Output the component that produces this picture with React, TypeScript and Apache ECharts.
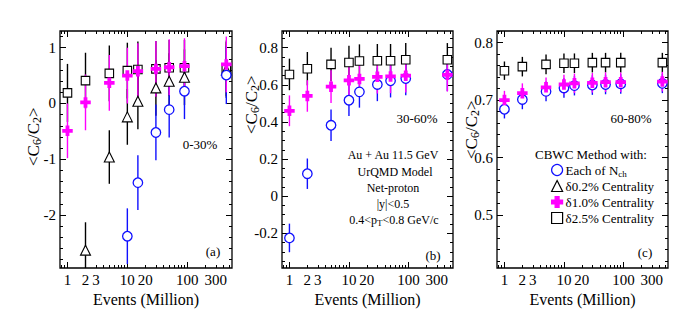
import { useEffect, useRef } from 'react';
import * as echarts from 'echarts';

const FONT = "'Liberation Serif', 'Times New Roman', Times, serif";

// Events (Million) at which each point was computed
const EVENTS = [1, 2, 5, 10, 15, 30, 50, 90, 450];

// X axis tick labels / ticks
const X_LABELS = [1, 2, 3, 10, 20, 100, 300];
const X_MAJOR_TICKS = [1, 10, 100];
const X_MINOR_TICKS = [0.8, 0.9, 2, 3, 4, 5, 6, 7, 8, 9, 20, 30, 40, 50, 60, 70, 80, 90, 200, 300, 400, 500];

// Y axis tick labels per panel
const A_Y_LABELS = [-2, -1, 0, 1];
const B_Y_LABELS = [-0.2, 0, 0.2, 0.4, 0.6, 0.8];
const C_Y_LABELS = [0.5, 0.6, 0.7, 0.8];

// Series names
const S_NCH = 'Each of Nch';
const S_D02 = 'δ0.2% Centrality';
const S_D10 = 'δ1.0% Centrality';
const S_D25 = 'δ2.5% Centrality';

// (a) 0-30%
const A_NCH = [null, null, null, -2.38, -1.42, -0.52, -0.11, 0.22, 0.51];
const A_NCH_ERR = [null, null, null, 0.5, 0.49, 0.5, 0.5, 0.5, 0.52];
const A_D02 = [null, -2.63, -0.96, -0.24, 0.04, 0.28, 0.4, 0.47, 0.6];
const A_D02_ERR = [null, 0.5, 0.48, 0.5, 0.5, 0.5, 0.5, 0.5, 0.5];
const A_D10 = [-0.49, 0.02, 0.37, 0.5, 0.58, 0.62, 0.65, 0.67, 0.7];
const A_D10_ERR = [0.49, 0.5, 0.5, 0.5, 0.5, 0.5, 0.5, 0.5, 0.5];
const A_D25 = [0.19, 0.41, 0.54, 0.59, 0.61, 0.62, 0.64, 0.64, 0.63];
const A_D25_ERR = [0.52, 0.5, 0.5, 0.5, 0.5, 0.5, 0.5, 0.5, 0.5];

// (b) 30-60%
const B_NCH = [-0.225, 0.121, 0.382, 0.517, 0.562, 0.602, 0.622, 0.634, 0.656];
const B_NCH_ERR = [0.077, 0.082, 0.085, 0.085, 0.085, 0.09, 0.09, 0.09, 0.09];
const B_D10 = [0.46, 0.54, 0.59, 0.624, 0.632, 0.643, 0.645, 0.649, 0.654];
const B_D10_ERR = [0.083, 0.085, 0.088, 0.088, 0.088, 0.09, 0.09, 0.09, 0.09];
const B_D25 = [0.656, 0.687, 0.71, 0.72, 0.728, 0.73, 0.73, 0.735, 0.735];
const B_D25_ERR = [0.085, 0.09, 0.09, 0.09, 0.09, 0.09, 0.09, 0.09, 0.09];

// (c) 60-80%
const C_NCH = [0.684, 0.701, 0.715, 0.721, 0.725, 0.726, 0.727, 0.728, 0.729];
const C_NCH_ERR = [0.016, 0.017, 0.017, 0.017, 0.017, 0.017, 0.017, 0.017, 0.017];
const C_D10 = [0.7, 0.712, 0.722, 0.727, 0.729, 0.73, 0.731, 0.731, 0.732];
const C_D10_ERR = [0.016, 0.017, 0.017, 0.017, 0.017, 0.017, 0.017, 0.017, 0.017];
const C_D25 = [0.751, 0.758, 0.762, 0.764, 0.764, 0.765, 0.765, 0.765, 0.765];
const C_D25_ERR = [0.016, 0.017, 0.017, 0.017, 0.017, 0.017, 0.017, 0.017, 0.017];

const BLUE = '#1010ff';
const MAGENTA = '#ff00ff';
const BLACK = '#000000';

const CROSS = 'path://M3.2,0 H6.8 V3.2 H10 V6.8 H6.8 V10 H3.2 V6.8 H0 V3.2 H3.2 Z';

const STYLE: Record<string, any> = {
  [S_NCH]: { symbol: 'circle', size: 9.5, color: BLUE, fill: '#ffffff', bw: 1.3 },
  [S_D02]: { symbol: 'triangle', size: 10, color: BLACK, fill: '#ffffff', bw: 1.1 },
  [S_D10]: { symbol: CROSS, size: 10.5, color: MAGENTA, fill: MAGENTA, bw: 0 },
  [S_D25]: { symbol: 'rect', size: 8.5, color: BLACK, fill: '#ffffff', bw: 1.1 },
};

type SeriesDef = { name: string; values: (number | null)[]; errors: (number | null)[] };
type Panel = {
  left: number; width: number; yMin: number; yMax: number; yLabels: number[]; yMinorStep: number;
  series: SeriesDef[];
};

const PANELS: Panel[] = [
  {
    left: 60, width: 172, yMin: -2.95, yMax: 1.3, yLabels: A_Y_LABELS, yMinorStep: 0.2,
    series: [
      { name: S_D25, values: A_D25, errors: A_D25_ERR },
      { name: S_D02, values: A_D02, errors: A_D02_ERR },
      { name: S_NCH, values: A_NCH, errors: A_NCH_ERR },
      { name: S_D10, values: A_D10, errors: A_D10_ERR },
    ],
  },
  {
    left: 282, width: 171, yMin: -0.387, yMax: 0.89, yLabels: B_Y_LABELS, yMinorStep: 0.05,
    series: [
      { name: S_D25, values: B_D25, errors: B_D25_ERR },
      { name: S_NCH, values: B_NCH, errors: B_NCH_ERR },
      { name: S_D10, values: B_D10, errors: B_D10_ERR },
    ],
  },
  {
    left: 497, width: 171, yMin: 0.408, yMax: 0.82, yLabels: C_Y_LABELS, yMinorStep: 0.02,
    series: [
      { name: S_D25, values: C_D25, errors: C_D25_ERR },
      { name: S_NCH, values: C_NCH, errors: C_NCH_ERR },
      { name: S_D10, values: C_D10, errors: C_D10_ERR },
    ],
  },
];

const X_MIN = 0.75;
const X_MAX = 560;
const GRID_TOP = 31;
const GRID_HEIGHT = 237;

function minorTicks(min: number, max: number, step: number): number[] {
  const out: number[] = [];
  const start = Math.ceil(min / step - 1e-9);
  for (let k = start; k * step <= max + 1e-9; k++) {
    out.push(Math.round(k * step * 1000) / 1000);
  }
  return out;
}

const tickLine = { color: '#000', width: 1 };

function buildOption() {
  const grid: any[] = [];
  const xAxis: any[] = [];
  const yAxis: any[] = [];
  const series: any[] = [];

  PANELS.forEach((p, gi) => {
    grid.push({
      left: p.left, top: GRID_TOP, width: p.width, height: GRID_HEIGHT,
      show: true, borderColor: '#000', borderWidth: 1.3, backgroundColor: 'transparent',
      containLabel: false, outerBoundsMode: 'none',
    });
    const xb = {
      type: 'log', logBase: 10, gridIndex: gi, min: X_MIN, max: X_MAX,
      splitLine: { show: false }, axisLine: { show: false, onZero: false }, minorTick: { show: false },
    };
    xAxis.push({
      ...xb, position: 'bottom',
      axisTick: { inside: true, length: 6, customValues: X_MAJOR_TICKS, lineStyle: tickLine },
      axisLabel: {
        customValues: X_LABELS, formatter: (v: number) => String(Math.round(v)),
        fontFamily: FONT, fontSize: 15, color: '#000', margin: 4,
      },
      name: 'Events (Million)', nameLocation: 'middle', nameGap: 10,
      nameTextStyle: { fontFamily: FONT, fontSize: 16, color: '#000' },
    });
    xAxis.push({
      ...xb, position: 'bottom',
      axisTick: { inside: true, length: 3, customValues: X_MINOR_TICKS, lineStyle: tickLine },
      axisLabel: { show: false },
    });
    xAxis.push({
      ...xb, position: 'top',
      axisTick: { inside: true, length: 6, customValues: X_MAJOR_TICKS, lineStyle: tickLine },
      axisLabel: { show: false },
    });
    xAxis.push({
      ...xb, position: 'top',
      axisTick: { inside: true, length: 3, customValues: X_MINOR_TICKS, lineStyle: tickLine },
      axisLabel: { show: false },
    });

    const yb = {
      type: 'value', gridIndex: gi, min: p.yMin, max: p.yMax,
      splitLine: { show: false }, axisLine: { show: false, onZero: false }, minorTick: { show: false },
    };
    const yMinor = minorTicks(p.yMin, p.yMax, p.yMinorStep);
    yAxis.push({
      ...yb, position: 'left',
      axisTick: { inside: true, length: 6, customValues: p.yLabels, lineStyle: tickLine },
      axisLabel: {
        customValues: p.yLabels,
        formatter: (v: number) => (Math.abs(v - Math.round(v)) < 1e-9 ? String(Math.round(v)) : v.toFixed(1)),
        fontFamily: FONT, fontSize: 15, color: '#000', margin: 4,
      },
    });
    yAxis.push({
      ...yb, position: 'left',
      axisTick: { inside: true, length: 3, customValues: yMinor, lineStyle: tickLine },
      axisLabel: { show: false },
    });
    yAxis.push({
      ...yb, position: 'right',
      axisTick: { inside: true, length: 6, customValues: p.yLabels, lineStyle: tickLine },
      axisLabel: { show: false },
    });
    yAxis.push({
      ...yb, position: 'right',
      axisTick: { inside: true, length: 3, customValues: yMinor, lineStyle: tickLine },
      axisLabel: { show: false },
    });

    p.series.forEach((s) => {
      const st = STYLE[s.name];
      const pts: number[][] = [];
      const errPts: number[][] = [];
      EVENTS.forEach((x, i) => {
        const v = s.values[i];
        const e = s.errors[i];
        if (v === null || v === undefined) return;
        pts.push([x, v]);
        errPts.push([x, v, e ?? 0]);
      });
      series.push({
        type: 'custom', name: s.name + ' (error)', xAxisIndex: gi * 4, yAxisIndex: gi * 4, clip: true, z: 2,
        data: errPts, silent: true,
        renderItem: (_params: any, api: any) => {
          const x = api.value(0), y = api.value(1), e = api.value(2);
          const p1 = api.coord([x, y - e]);
          const p2 = api.coord([x, y + e]);
          return {
            type: 'line',
            shape: { x1: p1[0], y1: p1[1], x2: p2[0], y2: p2[1] },
            style: { stroke: st.color, lineWidth: 1.4 },
          };
        },
      });
      series.push({
        type: 'scatter', name: s.name, xAxisIndex: gi * 4, yAxisIndex: gi * 4, z: 3, clip: true,
        symbol: st.symbol, symbolSize: st.size, data: pts,
        itemStyle: { color: st.fill, borderColor: st.color, borderWidth: st.bw, opacity: 1 },
      });
    });
  });

  const sub = { fontSize: 9, fontFamily: FONT, lineHeight: 10, padding: [6, 0, 0, 0] };
  const txt = (text: string, x: number, y: number, size = 13, align = 'center', extra: any = {}) => ({
    type: 'text', x, y, z: 10,
    style: { text, fontFamily: FONT, fontSize: size, fill: '#000', align, verticalAlign: 'middle', ...extra },
  });
  // rotated y-axis titles: (x, y) is the lower end of the text
  const yTitle = (x: number, y: number) => ({
    type: 'text', x, y, rotation: Math.PI / 2, z: 10,
    style: {
      text: '<C{sub|6}/C{sub|2}>', fontFamily: FONT, fontSize: 17, fill: '#000',
      align: 'left', verticalAlign: 'middle',
      rich: { sub: { fontSize: 12, fontFamily: FONT, padding: [8, 0, 0, 0] } },
    },
  });

  const graphic: any[] = [
    yTitle(33, 166),
    yTitle(251, 134),
    yTitle(471, 159),
    txt('0-30%', 200, 144),
    txt('(a)', 213, 251),
    txt('30-60%', 417, 118),
    txt('Au + Au 11.5 GeV', 393, 155, 12),
    txt('UrQMD Model', 395, 172, 12),
    txt('Net-proton', 393, 188, 12),
    txt('|y|<0.5', 393, 204, 12),
    txt('0.4<p{sub|T}<0.8 GeV/c', 394, 220, 12, 'center', { rich: { sub } }),
    txt('(b)', 433, 255),
    txt('60-80%', 631, 118),
    txt('CBWC Method with:', 591, 154),
    txt('(c)', 645, 252),
  ];

  return {
    animation: false,
    backgroundColor: '#ffffff',
    grid, xAxis, yAxis, series, graphic,
    legend: {
      data: [S_NCH, S_D02, S_D10, S_D25],
      orient: 'vertical', left: 551, top: 162, itemWidth: 11, itemHeight: 11, itemGap: 0,
      padding: 0,
      selectedMode: false,
      itemStyle: { borderWidth: 1.2 },
      textStyle: {
        fontFamily: FONT, fontSize: 13, color: '#000', lineHeight: 16, padding: [0, 0, 0, -2],
        rich: { sub: { ...sub, padding: [7, 0, 0, 0] } },
      },
      formatter: (name: string) => (name === S_NCH ? 'Each of N{sub|ch}' : name),
    },
  };
}

export default function App() {
  const ref = useRef<HTMLDivElement>(null);
  useEffect(() => {
    if (!ref.current) return;
    const chart = echarts.init(ref.current, undefined, { renderer: 'svg' });
    chart.setOption(buildOption() as any);
    return () => chart.dispose();
  }, []);
  return (
    <div
      ref={ref}
      style={{ position: 'fixed', left: 0, top: 0, width: 692, height: 310, background: '#fff' }}
    />
  );
}
